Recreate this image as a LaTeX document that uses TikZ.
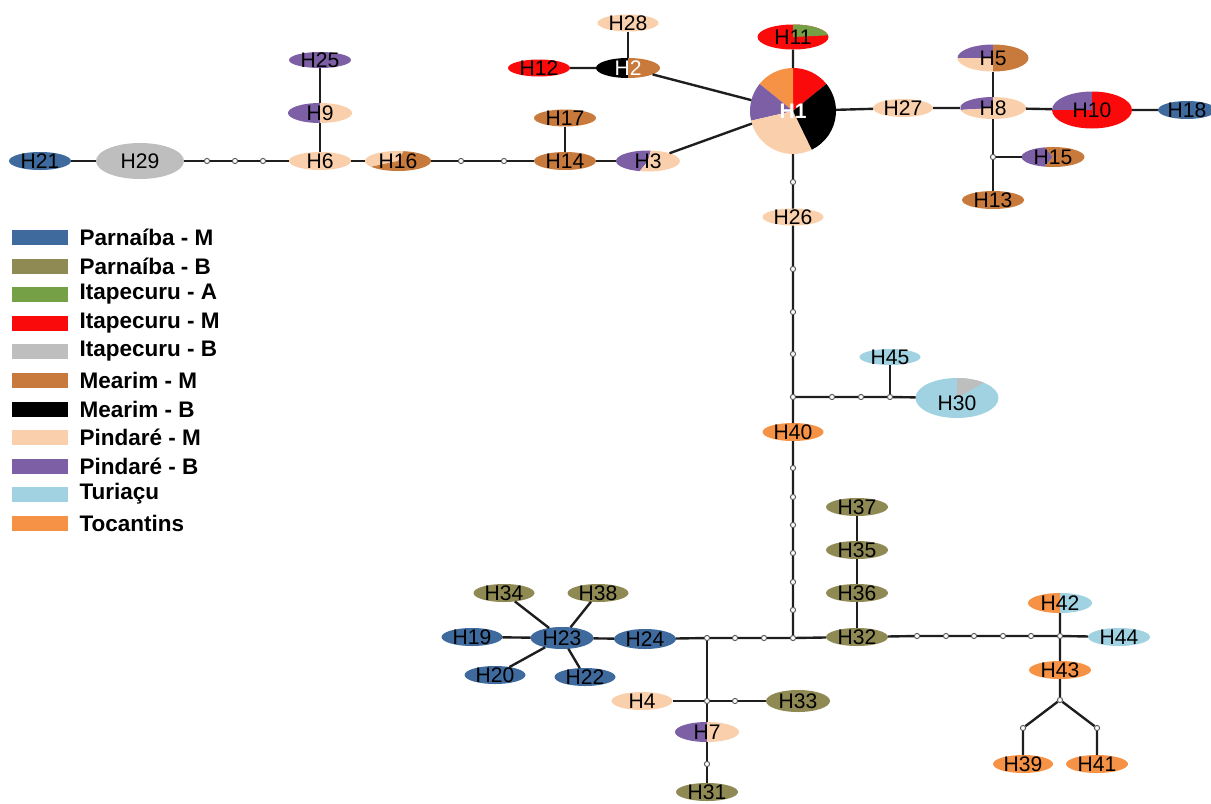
\documentclass[tikz,border=0pt]{standalone}
\usepackage{fontspec}
\setmainfont{Liberation Sans}
\usepackage{xcolor}
\usepackage{tikz}
\usetikzlibrary{shapes.geometric,backgrounds}

\definecolor{parM}{RGB}{62,106,158}
\definecolor{parB}{RGB}{143,137,84}
\definecolor{itaA}{RGB}{118,160,70}
\definecolor{itaM}{RGB}{250,10,10}
\definecolor{itaB}{RGB}{190,190,190}
\definecolor{meaM}{RGB}{200,122,60}
\definecolor{meaB}{RGB}{0,0,0}
\definecolor{pinM}{RGB}{250,208,172}
\definecolor{pinB}{RGB}{125,95,165}
\definecolor{tur}{RGB}{160,210,226}
\definecolor{toc}{RGB}{246,146,70}
\definecolor{lnk}{RGB}{30,30,30}
\definecolor{dotc}{RGB}{90,90,90}

\newcommand{\hapfont}{\fontsize{15}{15}\selectfont}
\newcommand{\legfont}{\fontsize{16}{16}\selectfont}
% node, x radius, y radius, start, end, colour
\newcommand{\hapwedge}[6]{%
  \fill[#6] (#1.center) -- ++(#4:#2 and #3) arc[start angle=#4, end angle=#5, x radius=#2, y radius=#3] -- cycle;}

\begin{document}
\begin{tikzpicture}[
    x=0.025cm, y=0.025cm,
    hap/.style={ellipse, inner sep=0pt, outer sep=0pt, minimum width=1.55cm, minimum height=0.45cm},
    hsize/.style 2 args={minimum width=#1*0.025cm, minimum height=#2*0.025cm},
    mv/.style={circle, draw=dotc, fill=white, line width=0.7pt, inner sep=0pt, minimum size=0.13cm},
    link/.style={draw=lnk, line width=1.7pt},
    legbox/.style={rectangle, inner sep=0pt, minimum width=1.4cm, minimum height=0.375cm},
    legtext/.style={font=\legfont\bfseries, xshift=0.275cm},
    every label/.style={font=\hapfont, inner sep=0pt},
  ]
  \useasboundingbox (0,0) rectangle (1211,-803);

  % Left branch
  \node[hap, fill=parM, label=center:H21] (h21) at (40,-161) {};
  \node[hap, hsize={88}{36}, fill=itaB, label=center:H29] (h29) at (140,-161) {};
  \node[mv] (a1) at (207,-161) {};
  \node[mv] (a2) at (235,-161) {};
  \node[mv] (a3) at (263,-161) {};
  \node[hap, fill=pinM, label=center:H6] (h6) at (320,-161) {};
  \node[hap, hsize={64}{20}, label=center:H9] (h9) at (320,-113) {};
  \node[hap, hsize={62}{16}, fill=pinB, label=center:H25] (h25) at (320,-60) {};
  \node[hap, hsize={66}{20}, label=center:H16] (h16) at (398,-161) {};
  \node[mv] (b1) at (461,-161) {};
  \node[mv] (b2) at (504,-161) {};
  \node[hap, fill=meaM, label=center:H14] (h14) at (565,-161) {};
  \node[hap, hsize={62}{17}, fill=meaM, label=center:H17] (h17) at (565,-118) {};
  \node[hap, hsize={64}{21}, label=center:H3] (h3) at (648,-161) {};

  % Top branch
  \node[hap, hsize={62}{17}, fill=itaM, label=center:H12] (h12) at (539,-68) {};
  \node[hap, hsize={64}{20}, label={[white]center:H2}] (h2) at (628,-68) {};
  \node[hap, hsize={61}{17}, fill=pinM, label=center:H28] (h28) at (628,-23) {};
  \node[circle, inner sep=0pt, outer sep=0pt, minimum size=2.15cm, label={[white, font=\hapfont\bfseries]center:H1}] (h1) at (793,-111) {};
  \node[hap, hsize={71}{25}, label=center:H11] (h11) at (793,-37) {};

  % Right branch
  \node[hap, hsize={60}{18}, fill=pinM, label=center:H27] (h27) at (903,-108) {};
  \node[hap, hsize={66}{22}, label=center:H8] (h8) at (993,-108) {};
  \node[hap, hsize={71}{27}, label=center:H5] (h5) at (993,-58) {};
  \node[hap, hsize={80}{37}, label=center:H10] (h10) at (1092,-110) {};
  \node[hap, hsize={58}{18}, fill=parM, label=center:H18] (h18) at (1187,-110) {};
  \node[mv] (n1) at (993,-157) {};
  \node[hap, hsize={63}{20}, label=center:H15] (h15) at (1053,-157) {};
  \node[hap, fill=meaM, label=center:H13] (h13) at (993,-200) {};

  % Trunk
  \node[mv] (c1) at (793,-182) {};
  \node[hap, hsize={61}{17}, fill=pinM, label=center:H26] (h26) at (793,-217) {};
  \node[mv] (c2) at (793,-269) {};
  \node[mv] (c3) at (793,-312) {};
  \node[mv] (c4) at (793,-354) {};
  \node[mv] (c5) at (793,-397) {};
  \node[mv] (d1) at (832,-397) {};
  \node[mv] (d2) at (861,-397) {};
  \node[mv] (d3) at (890,-397) {};
  \node[hap, hsize={61}{16}, fill=tur, label=center:H45] (h45) at (890,-357) {};
  \node[hap, hsize={83}{40}, label={[yshift=-0.12cm]center:H30}] (h30) at (957,-398) {};
  \node[hap, hsize={61}{18}, fill=toc, label=center:H40] (h40) at (793,-432) {};
  \node[mv] (e1) at (793,-468) {};
  \node[mv] (e2) at (793,-497) {};
  \node[mv] (e3) at (793,-525) {};
  \node[mv] (e4) at (793,-553) {};
  \node[mv] (e5) at (793,-582) {};
  \node[mv] (e6) at (793,-610) {};
  \node[mv] (e7) at (793,-638) {};

  % Bottom right
  \node[hap, fill=parB, label=center:H32] (h32) at (857,-637) {};
  \node[hap, fill=parB, label=center:H36] (h36) at (857,-593) {};
  \node[hap, fill=parB, label=center:H35] (h35) at (857,-550) {};
  \node[hap, fill=parB, label=center:H37] (h37) at (857,-507) {};
  \node[mv] (k1) at (917,-636) {};
  \node[mv] (k2) at (946,-636) {};
  \node[mv] (k3) at (974,-636) {};
  \node[mv] (k4) at (1003,-636) {};
  \node[mv] (k5) at (1031,-636) {};
  \node[mv] (k6) at (1060,-636) {};
  \node[hap, hsize={64}{20}, label=center:H42] (h42) at (1060,-603) {};
  \node[hap, fill=tur, label=center:H44] (h44) at (1119,-637) {};
  \node[hap, fill=toc, label=center:H43] (h43) at (1060,-670) {};
  \node[mv] (m1) at (1060,-700) {};
  \node[mv] (m2) at (1023,-728) {};
  \node[mv] (m3) at (1097,-728) {};
  \node[hap, hsize={60}{18}, fill=toc, label=center:H39] (h39) at (1023,-764) {};
  \node[hap, fill=toc, label=center:H41] (h41) at (1097,-764) {};

  % Bottom left
  \node[mv] (f1) at (707,-638) {};
  \node[mv] (f2) at (735,-638) {};
  \node[mv] (f3) at (764,-638) {};
  \node[hap, hsize={62}{20}, fill=parM, label=center:H24] (h24) at (645,-639) {};
  \node[hap, hsize={63}{22}, fill=parM, label=center:H23] (h23) at (562,-638) {};
  \node[hap, hsize={61}{18}, fill=parM, label=center:H19] (h19) at (472,-637) {};
  \node[hap, hsize={61}{18}, fill=parB, label=center:H34] (h34) at (504,-593) {};
  \node[hap, hsize={61}{18}, fill=parB, label=center:H38] (h38) at (598,-593) {};
  \node[hap, hsize={61}{18}, fill=parM, label=center:H20] (h20) at (495,-675) {};
  \node[hap, hsize={61}{18}, fill=parM, label=center:H22] (h22) at (585,-677) {};
  \node[mv] (g1) at (707,-701) {};
  \node[mv] (g2) at (735,-701) {};
  \node[hap, hsize={61}{18}, fill=pinM, label=center:H4] (h4) at (642,-701) {};
  \node[hap, hsize={64}{22}, fill=parB, label=center:H33] (h33) at (798,-701) {};
  \node[hap, hsize={64}{20}, label=center:H7] (h7) at (707,-732) {};
  \node[mv] (g3) at (707,-764) {};
  \node[hap, fill=parB, label=center:H31] (h31) at (707,-792) {};

  % Pie slices
  \begin{scope}[on background layer]
    \hapwedge{h1}{43}{43}{39}{90}{itaM}
    \hapwedge{h1}{43}{43}{90}{141}{toc}
    \hapwedge{h1}{43}{43}{141}{193}{pinB}
    \hapwedge{h1}{43}{43}{193}{296}{pinM}
    \hapwedge{h1}{43}{43}{296}{399}{meaB}
    \fill[itaM] (h11.center) ellipse[x radius=35.5, y radius=12.5];
    \hapwedge{h11}{35.5}{12.5}{8}{90}{itaA}
    \hapwedge{h2}{32}{10}{90}{270}{meaB}
    \hapwedge{h2}{32}{10}{-90}{90}{meaM}
    \hapwedge{h3}{32}{10.5}{85}{255}{pinB}
    \hapwedge{h3}{32}{10.5}{255}{445}{pinM}
    \hapwedge{h9}{32}{10}{90}{270}{pinB}
    \hapwedge{h9}{32}{10}{-90}{90}{pinM}
    \hapwedge{h16}{33}{10}{80}{215}{pinM}
    \hapwedge{h16}{33}{10}{215}{440}{meaM}
    \hapwedge{h5}{35.5}{13.5}{90}{180}{pinB}
    \hapwedge{h5}{35.5}{13.5}{180}{270}{pinM}
    \hapwedge{h5}{35.5}{13.5}{270}{450}{meaM}
    \hapwedge{h8}{33}{11}{90}{190}{pinB}
    \hapwedge{h8}{33}{11}{190}{450}{pinM}
    \hapwedge{h10}{40}{18.5}{90}{180}{pinB}
    \hapwedge{h10}{40}{18.5}{180}{450}{itaM}
    \hapwedge{h15}{31.5}{10}{105}{255}{pinB}
    \hapwedge{h15}{31.5}{10}{255}{465}{meaM}
    \fill[tur] (h30.center) ellipse[x radius=41.5, y radius=20];
    \hapwedge{h30}{41.5}{20}{50}{90}{itaB}
    \hapwedge{h42}{32}{10}{90}{270}{toc}
    \hapwedge{h42}{32}{10}{-90}{90}{tur}
    \hapwedge{h7}{32}{10}{90}{270}{pinB}
    \hapwedge{h7}{32}{10}{-90}{90}{pinM}
  \end{scope}

  % Links
  \draw[link] (h21) -- (h29) -- (a1) -- (a2) -- (a3) -- (h6) -- (h16) -- (b1) -- (b2) -- (h14) -- (h3);
  \draw[link] (h6) -- (h9) -- (h25);
  \draw[link] (h14) -- (h17);
  \draw[link] (h3) -- (h1.197);
  \draw[link] (h12) -- (h2) -- (h1);
  \draw[link] (h2) -- (h28);
  \draw[link] (h11) -- (h1) -- (h27) -- (h8) -- (h10) -- (h18);
  \draw[link] (h5) -- (h8) -- (n1) -- (h13);
  \draw[link] (n1) -- (h15);
  \draw[link] (h1) -- (c1) -- (h26) -- (c2) -- (c3) -- (c4) -- (c5) -- (h40) -- (e1) -- (e2) -- (e3) -- (e4) -- (e5) -- (e6) -- (e7) -- (h32);
  \draw[link] (c5) -- (d1) -- (d2) -- (d3) -- (h30);
  \draw[link] (d3) -- (h45);
  \draw[link] (h32) -- (k1) -- (k2) -- (k3) -- (k4) -- (k5) -- (k6) -- (h44);
  \draw[link] (h32) -- (h36) -- (h35) -- (h37);
  \draw[link] (h42) -- (k6) -- (h43) -- (m1) -- (m2) -- (h39);
  \draw[link] (m1) -- (m3) -- (h41);
  \draw[link] (e7) -- (f3) -- (f2) -- (f1) -- (h24) -- (h23) -- (h19);
  \draw[link] (h34) -- (h23) -- (h38);
  \draw[link] (h20) -- (h23) -- (h22);
  \draw[link] (f1) -- (g1) -- (h7) -- (g3) -- (h31);
  \draw[link] (h4) -- (g1) -- (g2) -- (h33);

  % Legend
  \node[legbox, fill=parM, label={[legtext]right:Parnaíba - M}] (lgParM) at (40,-237) {};
  \node[legbox, fill=parB, label={[legtext]right:Parnaíba - B}] (lgParB) at (40,-266) {};
  \node[legbox, fill=itaA, label={[legtext]right:Itapecuru - A}] (lgItaA) at (40,-294) {};
  \node[legbox, fill=itaM, label={[legtext]right:Itapecuru - M}] (lgItaM) at (40,-323) {};
  \node[legbox, fill=itaB, label={[legtext]right:Itapecuru - B}] (lgItaB) at (40,-351) {};
  \node[legbox, fill=meaM, label={[legtext]right:Mearim - M}] (lgMeaM) at (40,-380) {};
  \node[legbox, fill=meaB, label={[legtext]right:Mearim - B}] (lgMeaB) at (40,-409) {};
  \node[legbox, fill=pinM, label={[legtext]right:Pindaré - M}] (lgPinM) at (40,-437) {};
  \node[legbox, fill=pinB, label={[legtext]right:Pindaré - B}] (lgPinB) at (40,-466) {};
  \node[legbox, fill=tur, label={[legtext]right:Turiaçu}] (lgTur) at (40,-494) {};
  \node[legbox, fill=toc, label={[legtext]right:Tocantins}] (lgToc) at (40,-523) {};
\end{tikzpicture}
\end{document}
